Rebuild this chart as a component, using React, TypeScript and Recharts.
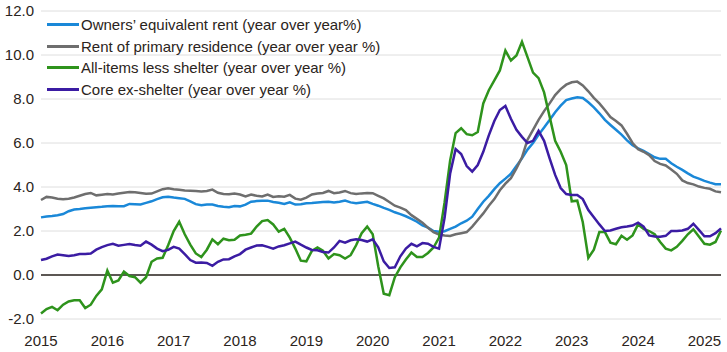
import { LineChart, Line, XAxis, YAxis, CartesianGrid, ReferenceLine } from 'recharts'

// monthly, Jan 2015 .. Apr 2025
const oer = [
  2.62, 2.66, 2.68, 2.72, 2.77, 2.9, 2.98, 3.0, 3.03, 3.06, 3.08, 3.1,
  3.13, 3.14, 3.12, 3.13, 3.23, 3.22, 3.21, 3.28, 3.35, 3.45, 3.53, 3.56,
  3.52, 3.49, 3.46, 3.35, 3.22, 3.17, 3.2, 3.2, 3.14, 3.1, 3.08, 3.14,
  3.12, 3.2, 3.33, 3.36, 3.38, 3.38, 3.32, 3.28, 3.23, 3.3, 3.2, 3.22,
  3.26, 3.27, 3.3, 3.32, 3.33, 3.3, 3.33, 3.38, 3.3, 3.26, 3.3, 3.33,
  3.23, 3.15, 3.05, 2.96, 2.85, 2.77, 2.67, 2.55, 2.42, 2.25, 2.15, 2.0,
  1.97, 1.99, 2.1, 2.2, 2.35, 2.47, 2.65, 3.0, 3.33, 3.6, 3.9, 4.17,
  4.38, 4.6, 4.95, 5.3, 5.7, 6.0, 6.37, 6.7, 7.05, 7.4, 7.7, 7.95,
  8.02, 8.08, 8.05, 7.85, 7.62, 7.35, 7.05, 6.82, 6.6, 6.38, 6.12, 5.9,
  5.76, 5.64, 5.5, 5.35, 5.28, 5.28, 5.08, 4.92, 4.78, 4.62, 4.47, 4.38,
  4.28, 4.2, 4.13, 4.12,
]

const rent = [
  3.41, 3.55, 3.52, 3.47, 3.44, 3.47, 3.52, 3.6, 3.68, 3.73, 3.62, 3.65,
  3.68, 3.66, 3.7, 3.74, 3.77, 3.76, 3.73, 3.69, 3.7, 3.8, 3.9, 3.94,
  3.9, 3.87, 3.84, 3.83, 3.82, 3.8, 3.82, 3.88, 3.74, 3.68, 3.67, 3.7,
  3.66, 3.57, 3.66, 3.6, 3.57, 3.66, 3.55, 3.58, 3.56, 3.64, 3.47, 3.42,
  3.52, 3.66, 3.7, 3.73, 3.82, 3.72, 3.75, 3.82, 3.72, 3.68, 3.71, 3.73,
  3.72, 3.6, 3.48, 3.32, 3.15, 3.06, 2.95, 2.72, 2.55, 2.38, 2.15, 1.95,
  1.84, 1.8, 1.77, 1.85, 1.9, 1.95, 2.2, 2.5, 2.8, 3.15, 3.45, 3.85,
  4.15, 4.4, 4.85, 5.35, 6.15, 6.6, 7.05, 7.45, 7.8, 8.18, 8.45, 8.65,
  8.76, 8.79, 8.62, 8.35, 8.05, 7.8, 7.5, 7.18, 7.0, 6.8, 6.42, 6.0,
  5.72, 5.6, 5.45, 5.18, 5.05, 4.98, 4.8, 4.6, 4.3, 4.18, 4.12, 4.02,
  3.96, 3.92, 3.8, 3.76,
]

const lessShelter = [
  -1.75, -1.55, -1.45, -1.6, -1.35, -1.2, -1.15, -1.15, -1.5, -1.35, -0.95, -0.65,
  0.2, -0.35, -0.25, 0.15, -0.05, -0.1, -0.35, -0.1, 0.6, 0.75, 0.78, 1.35,
  2.0, 2.42, 1.85, 1.38, 0.98, 0.82, 1.15, 1.62, 1.4, 1.65, 1.58, 1.6,
  1.8, 1.83, 1.88, 2.2, 2.45, 2.5, 2.3, 1.97, 2.1, 1.7, 1.2, 0.65,
  0.62, 1.1, 1.25, 1.1, 0.75, 0.95, 0.9, 0.75, 0.9, 1.35, 1.9, 2.2,
  1.85, 0.4, -0.85, -0.92, -0.1, 0.35, 0.7, 1.02, 0.82, 0.82, 1.0, 1.25,
  1.7, 3.3, 5.2, 6.45, 6.67, 6.4, 6.35, 6.5, 7.8, 8.4, 8.85, 9.3,
  10.2, 9.75, 9.98, 10.6, 9.9, 9.2, 8.95, 8.3, 7.2, 6.1, 5.6, 5.0,
  3.35, 3.38, 2.4, 0.78, 1.15, 1.95, 1.95, 1.47, 1.4, 1.78, 1.6, 1.8,
  2.3, 2.1, 2.0, 1.85, 1.5, 1.2, 1.12, 1.28, 1.55, 1.85, 2.08, 1.75,
  1.42, 1.38, 1.5, 2.02,
]

const coreExShelter = [
  0.68, 0.74, 0.85, 0.93, 0.9, 0.86, 0.9, 0.95, 0.96, 0.98, 1.15, 1.27,
  1.36, 1.42, 1.33, 1.37, 1.41, 1.36, 1.33, 1.52, 1.38, 1.2, 1.08, 1.14,
  1.28, 1.2, 0.95, 0.68, 0.56, 0.57, 0.55, 0.42, 0.6, 0.71, 0.72, 0.85,
  0.95, 1.15, 1.25, 1.34, 1.35, 1.28, 1.2, 1.3, 1.35, 1.44, 1.52, 1.38,
  1.25, 1.14, 1.12, 1.05, 1.02, 1.25, 1.55, 1.47, 1.58, 1.62, 1.59, 1.52,
  1.62, 1.26, 0.62, 0.32, 0.35, 0.85, 1.2, 1.42, 1.3, 1.45, 1.42, 1.28,
  1.2, 2.6, 4.6, 5.72, 5.5, 4.95, 4.7, 5.0, 5.6, 6.35, 7.0, 7.5,
  7.68, 7.1, 6.6, 6.28, 6.0, 6.1, 6.55, 6.1, 5.3, 4.55, 3.95, 3.68,
  3.64, 3.64, 3.45, 2.95, 2.62, 2.3, 2.0, 2.02, 2.1, 2.17, 2.2, 2.25,
  2.38, 2.2, 1.8, 1.75, 1.74, 1.78, 2.0, 2.0, 2.02, 2.1, 2.33, 2.05,
  1.76, 1.76, 1.9, 2.12,
]

const years = [2015, 2016, 2017, 2018, 2019, 2020, 2021, 2022, 2023, 2024, 2025]
const yTicks = [-2, 0, 2, 4, 6, 8, 10, 12]

const SERIES = [
  { key: 'oer', name: 'Owners\u2019 equivalent rent (year over year%)', color: '#1a88d8', values: oer },
  { key: 'rent', name: 'Rent of primary residence (year over year %)', color: '#6e6e6e', values: rent },
  { key: 'lessShelter', name: 'All-items less shelter (year over year %)', color: '#2e931c', values: lessShelter },
  { key: 'core', name: 'Core ex-shelter (year over year %)', color: '#3b1ca3', values: coreExShelter },
]

const data = oer.map((_, i) => {
  const row: Record<string, number> = { i }
  SERIES.forEach(s => { row[s.key] = s.values[i] })
  return row
})

const FONT = '"Liberation Sans", Arial, sans-serif'
const TEXT = '#2b2420'

function LegendBox() {
  return (
    <div style={{ position: 'absolute', left: 47, top: 13.5, fontFamily: FONT, fontSize: 15, color: TEXT, lineHeight: 1 }}>
      {SERIES.map(s => (
        <div key={s.key} style={{ display: 'flex', alignItems: 'center', height: 21.7, whiteSpace: 'nowrap' }}>
          <span style={{ display: 'inline-block', width: 32, height: 3, background: s.color, marginRight: 2 }} />
          <span>{s.name}</span>
        </div>
      ))}
    </div>
  )
}

export default function App() {
  return (
    <div style={{ position: 'absolute', left: 0, top: 0, width: 727, height: 352, background: '#fff' }}>
      <LineChart width={727} height={352} data={data} margin={{ top: 11, right: 6, bottom: 5, left: 0 }}>
        <CartesianGrid vertical={false} stroke="#dedede" strokeWidth={1} />
        <XAxis
          type="number"
          dataKey="i"
          domain={[0, 123]}
          ticks={years.map((_, k) => k * 12)}
          interval={0}
          tickFormatter={(v: number) => String(years[Math.round(v / 12)])}
          axisLine={false}
          tickLine={false}
          tickSize={0}
          tickMargin={16}
          height={28}
          tick={{ fill: TEXT, fontSize: 15, fontFamily: FONT }}
        />
        <YAxis
          domain={[-2, 12]}
          ticks={yTicks}
          tickFormatter={(v: number) => v.toFixed(1)}
          axisLine={false}
          tickLine={false}
          tickSize={0}
          tickMargin={7}
          width={41}
          interval={0}
          tick={{ fill: TEXT, fontSize: 15, fontFamily: FONT }}
        />
        <ReferenceLine y={0} stroke={TEXT} strokeWidth={1.5} />
        {SERIES.map(s => (
          <Line
            key={s.key}
            type="linear"
            dataKey={s.key}
            name={s.name}
            stroke={s.color}
            strokeWidth={2.5}
            dot={false}
            isAnimationActive={false}
          />
        ))}
      </LineChart>
      <LegendBox />
    </div>
  )
}
